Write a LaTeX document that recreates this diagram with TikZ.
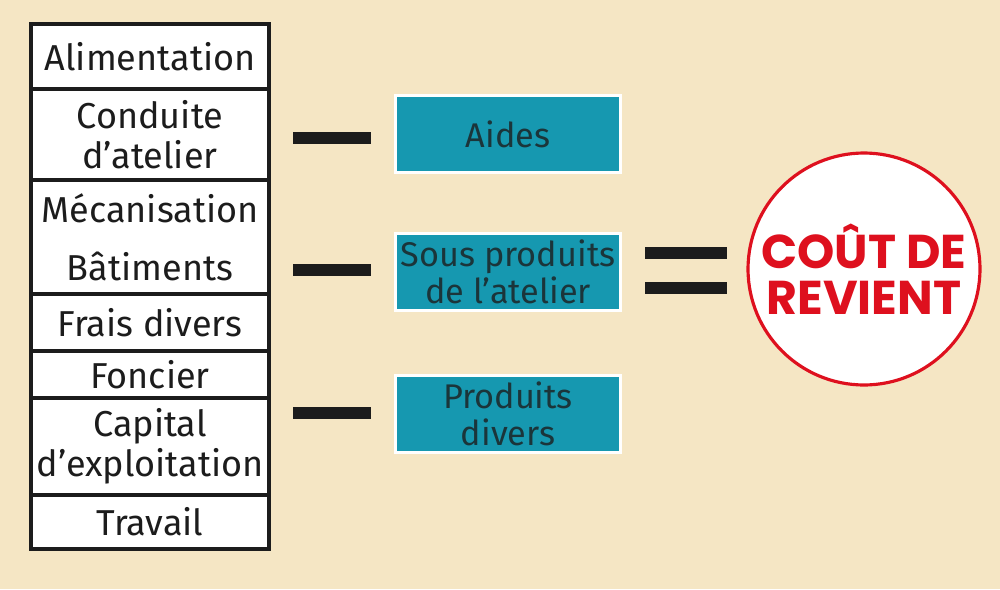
\documentclass[tikz,border=0pt]{standalone}
\usepackage{fontspec}
\setmainfont{Fira Sans}
\newfontfamily\titlefont{Poppins}
\usepackage{xcolor}
\usetikzlibrary{positioning,calc}
\definecolor{pagebg}{RGB}{245,230,196}
\definecolor{tealbox}{RGB}{22,152,176}
\definecolor{costred}{RGB}{222,16,30}
\definecolor{inkdark}{RGB}{28,28,28}

\begin{document}
\begin{tikzpicture}[
  x=0.02cm, y=-0.02cm,
  every node/.style={font=\fontsize{20.5}{24}\selectfont, text=inkdark},
  cell/.style={
    rectangle, draw=inkdark, fill=white, line width=2pt,
    minimum width=4.76cm, inner sep=0pt, align=center
  },
  tealcell/.style={
    rectangle, draw=white, fill=tealbox, line width=2.2pt,
    minimum width=4.5cm, minimum height=1.54cm, inner sep=0pt,
    align=center, text=inkdark!80!tealbox,
    font=\fontsize{19.5}{23}\selectfont
  },
  bar/.style={rectangle, fill=inkdark, minimum width=1.56cm,
    minimum height=0.25cm, inner sep=0pt},
  result/.style={circle, draw=costred, fill=white, line width=1.8pt,
    minimum size=4.64cm, inner sep=0pt, align=center, text=costred,
    font=\titlefont\fontsize{27}{31}\selectfont\bfseries}
]
  % Background
  \fill[pagebg] (0,0) rectangle (1000,589);

  % Left column of charges
  \foreach \top/\bot/\name/\txt in {
      24/89/ali/Alimentation,
      89/180/cond/{Conduite\\[-1pt]d’atelier},
      180/294/meca/{Mécanisation\\[9pt]Bâtiments},
      294/351/frais/Frais divers,
      351/398/fonc/Foncier,
      398/495/capi/{Capital\\[-1pt]d’exploitation},
      495/549/trav/Travail} {
    \node[cell, minimum height={(\bot-\top)*0.02cm}]
      (\name) at (150,{(\top+\bot)/2}) {\txt};
  }

  % Deductions
  \node[tealcell] (aides) at (508,134) {Aides};
  \node[tealcell] (sous) at (508,272) {Sous produits\\[-2pt]de l’atelier};
  \node[tealcell] (prod) at (508,414) {Produits\\[-2pt]divers};

  % Minus signs
  \node[bar] (m1) at (332,138) {};
  \node[bar] (m2) at (332,270) {};
  \node[bar] (m3) at (332,413) {};

  % Equals sign
  \node[bar, minimum width=1.64cm] (eqa) at (686,253) {};
  \node[bar, minimum width=1.64cm] (eqb) at (686,288) {};

  % Result
  \node[result] (cout) at (864,269) {COÛT DE\\[-5pt]REVIENT};
\end{tikzpicture}
\end{document}
